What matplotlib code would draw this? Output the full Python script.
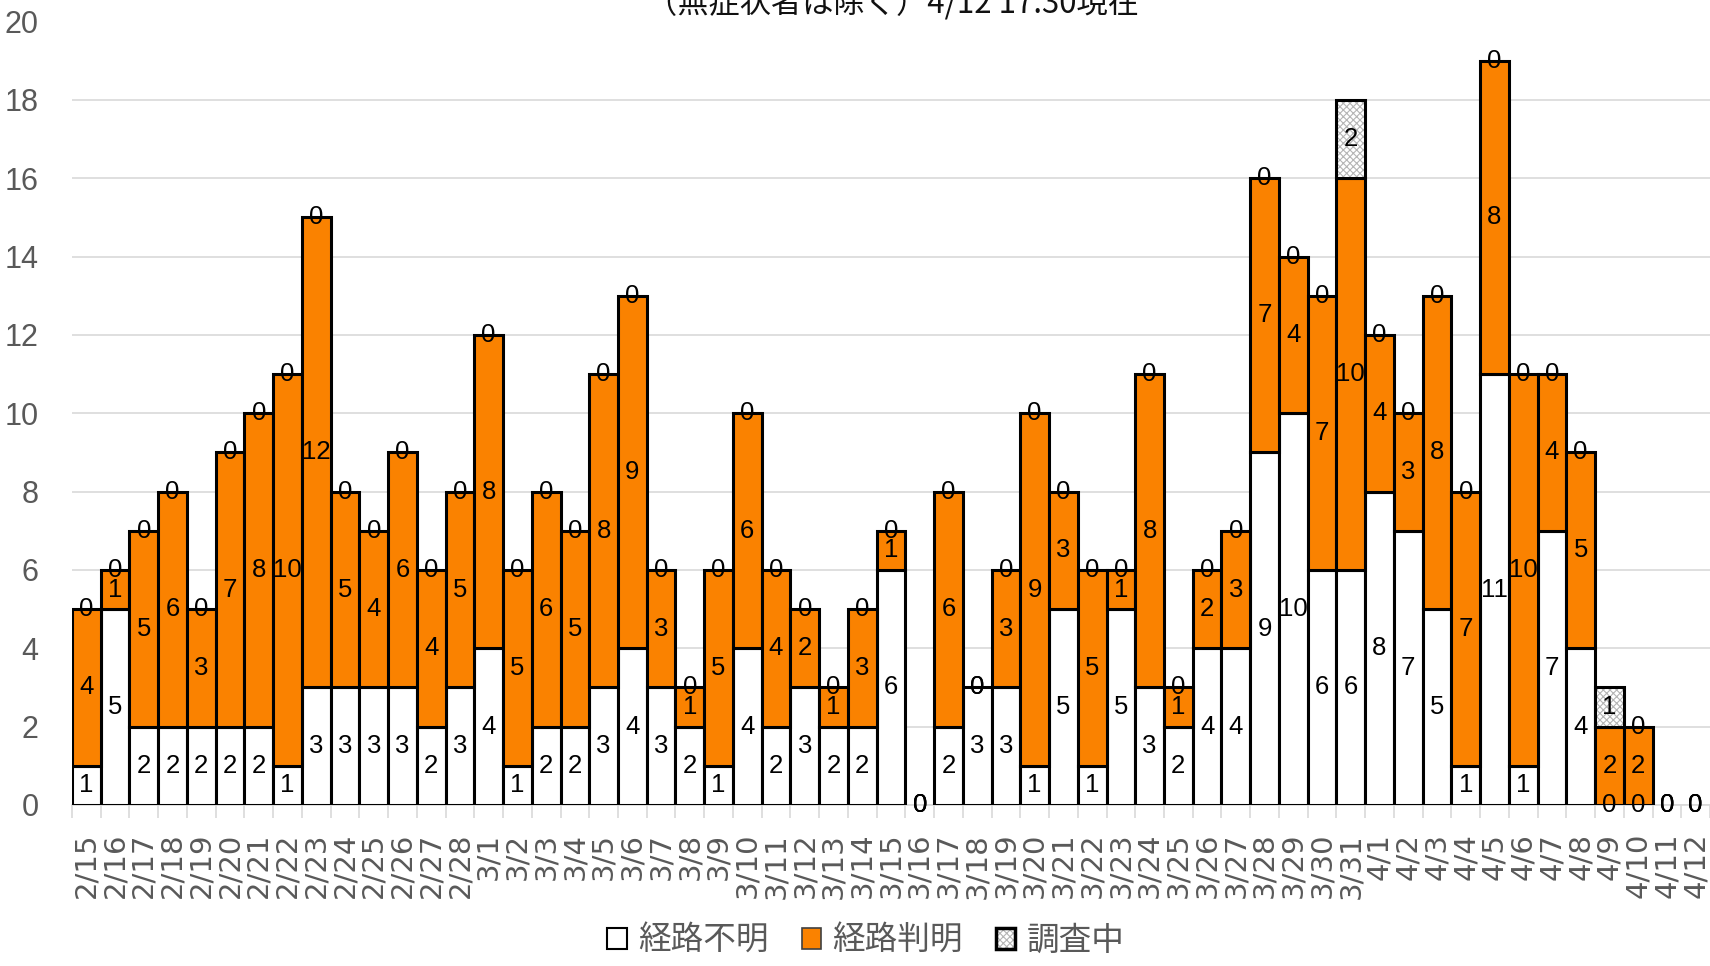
import matplotlib
matplotlib.use("Agg")
import matplotlib.pyplot as plt
from matplotlib.patches import Patch


#---------------------------------------------------
# data
#---------------------------------------------------

dates = ["2/15", "2/16", "2/17", "2/18", "2/19", "2/20", "2/21", "2/22", "2/23", "2/24",
         "2/25", "2/26", "2/27", "2/28",
         "3/1", "3/2", "3/3", "3/4", "3/5", "3/6", "3/7", "3/8", "3/9", "3/10",
         "3/11", "3/12", "3/13", "3/14", "3/15", "3/16", "3/17", "3/18", "3/19", "3/20",
         "3/21", "3/22", "3/23", "3/24", "3/25", "3/26", "3/27", "3/28", "3/29", "3/30",
         "3/31",
         "4/1", "4/2", "4/3", "4/4", "4/5", "4/6", "4/7", "4/8", "4/9", "4/10",
         "4/11", "4/12"]

# 経路不明
unknown = [1, 5, 2, 2, 2, 2, 2, 1, 3, 3,
           3, 3, 2, 3,
           4, 1, 2, 2, 3, 4, 3, 2, 1, 4,
           2, 3, 2, 2, 6, 0, 2, 3, 3, 1,
           5, 1, 5, 3, 2, 4, 4, 9, 10, 6,
           6,
           8, 7, 5, 1, 11, 1, 7, 4, 0, 0,
           0, 0]

# 経路判明
known = [4, 1, 5, 6, 3, 7, 8, 10, 12, 5,
         4, 6, 4, 5,
         8, 5, 6, 5, 8, 9, 3, 1, 5, 6,
         4, 2, 1, 3, 1, 0, 6, 0, 3, 9,
         3, 5, 1, 8, 1, 2, 3, 7, 4, 7,
         10,
         4, 3, 8, 7, 8, 10, 4, 5, 2, 2,
         0, 0]

# 調査中
investigating = [0, 0, 0, 0, 0, 0, 0, 0, 0, 0,
                 0, 0, 0, 0,
                 0, 0, 0, 0, 0, 0, 0, 0, 0, 0,
                 0, 0, 0, 0, 0, 0, 0, 0, 0, 0,
                 0, 0, 0, 0, 0, 0, 0, 0, 0, 0,
                 2,
                 0, 0, 0, 0, 0, 0, 0, 0, 1, 0,
                 0, 0]

legend_labels = ["経路不明", "経路判明", "調査中"]
title = "（無症状者は除く）4/12 17:30現在"


#---------------------------------------------------
# style
#---------------------------------------------------

ORANGE = "#FA8200"
GRAY_TXT = "#595959"
GRID = "#d9d9d9"
EDGE_LW = 2.2
cjk = ["Noto Sans CJK JP", "DejaVu Sans"]

fig = plt.figure(figsize=(17.1, 9.66), dpi=100)
ax = fig.add_axes([72 / 1710, 161 / 966, (1710 - 72) / 1710, 783.5 / 966])

x = list(range(len(dates)))
bottom2 = [u + k for u, k in zip(unknown, known)]

def edges(vals):
    # zero height bars would draw a black line, skip their edges
    return ["black" if v > 0 else "none" for v in vals]

b1 = ax.bar(x, unknown, width=1.0, color="white", edgecolor=edges(unknown),
            linewidth=EDGE_LW, zorder=3)
b2 = ax.bar(x, known, width=1.0, bottom=unknown, color=ORANGE,
            edgecolor=edges(known), linewidth=EDGE_LW, zorder=3)

plt.rcParams["hatch.linewidth"] = 0.8
b3_fill = ax.bar(x, investigating, width=1.0, bottom=bottom2, color="white",
                 edgecolor="#b5b5b5", linewidth=0, hatch="xxxxx", zorder=3)
b3 = ax.bar(x, investigating, width=1.0, bottom=bottom2, color="none",
            edgecolor=edges(investigating), linewidth=EDGE_LW, zorder=4)

lbl_font = dict(family=["Liberation Sans", "DejaVu Sans"], size=18.5, color="black")
for cont, vals in [(b1, unknown), (b2, known), (b3, investigating)]:
    ax.bar_label(cont, labels=[str(v) for v in vals], label_type="center",
                 zorder=6, **lbl_font)

#---------------------------------------------------
# axes
#---------------------------------------------------

ax.set_xlim(-0.5, len(dates) - 0.5)
ax.set_ylim(0, 20)
ax.set_yticks(range(0, 21, 2))
ax.yaxis.grid(True, color=GRID, linewidth=1.2)
ax.set_axisbelow(True)

for s in ["left", "right", "top"]:
    ax.spines[s].set_visible(False)
ax.spines["bottom"].set_color(GRID)
ax.spines["bottom"].set_linewidth(1.2)

ax.set_xticks(x)
ax.set_xticklabels(dates, rotation=90, ha="center", va="top",
                   family="DejaVu Sans", fontsize=21, color=GRAY_TXT)
ax.set_xticks([i - 0.5 for i in range(len(dates) + 1)], minor=True)
ax.tick_params(axis="x", which="major", length=0, pad=20)
ax.tick_params(axis="x", which="minor", length=9, color=GRID, width=1.2)
ax.tick_params(axis="y", length=0, pad=24)
for t in ax.get_yticklabels():
    t.set_family(["Liberation Sans", "DejaVu Sans"])
    t.set_fontsize(22)
    t.set_color(GRAY_TXT)

# title sits mostly outside the top edge, as in the source image
fig.text(892 / 1710, 1 - 14 / 966, title, ha="center", va="baseline",
         fontsize=22.5, family=cjk, color="#111111")

h1 = Patch(facecolor="white", edgecolor="black", linewidth=1.5)
h2 = Patch(facecolor=ORANGE, edgecolor="#404040", linewidth=1.2)
h3a = Patch(facecolor="white", edgecolor="#b5b5b5", linewidth=0, hatch="xxxxx")
h3b = Patch(facecolor="none", edgecolor="black", linewidth=2.5)
leg = fig.legend([h1, h2, (h3a, h3b)], legend_labels, loc="center",
                 bbox_to_anchor=(866 / 1710, 1 - 941 / 966), ncol=3, frameon=False,
                 prop={"family": cjk, "size": 23.5}, labelcolor=GRAY_TXT,
                 handlelength=0.6, handleheight=0.6, handletextpad=0.35,
                 columnspacing=1.0)

fig.savefig("out.png", dpi=100)
